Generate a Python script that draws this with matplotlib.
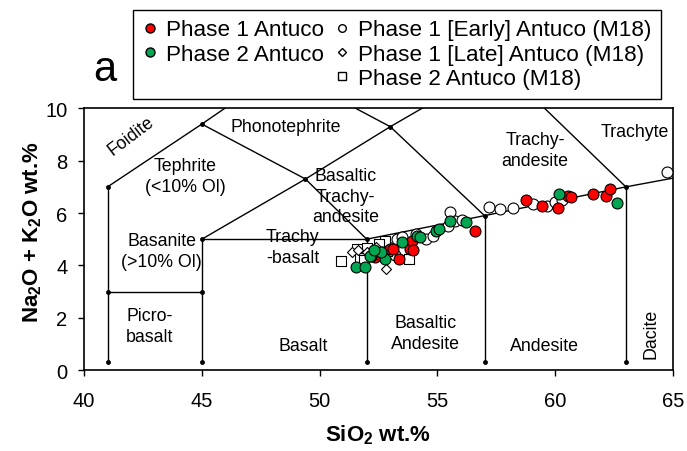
import matplotlib
matplotlib.use('Agg')
import matplotlib.pyplot as plt
from matplotlib.lines import Line2D

plt.rcParams['font.family'] = ['Liberation Sans', 'DejaVu Sans']
plt.rcParams['mathtext.default'] = 'regular'

# Phase 1 Antuco (this study)
p1_sio2 = [52.36, 52.50, 52.70, 53.00, 53.13, 53.39, 53.84, 53.91, 53.98, 56.58,
           58.77, 59.44, 60.14, 60.56, 60.65, 61.60, 62.17, 62.34, 52.20]
p1_alk = [4.31, 4.43, 4.50, 4.62, 4.62, 4.24, 4.62, 4.94, 4.60, 5.32,
          6.51, 6.28, 6.18, 6.66, 6.60, 6.71, 6.64, 6.92, 4.35]

# Phase 2 Antuco (this study)
p2_sio2 = [51.55, 51.93, 52.14, 52.78, 52.60, 52.30, 54.12, 54.27, 54.95, 55.05,
           55.54, 56.22, 60.18, 62.62, 53.50]
p2_alk = [3.92, 3.92, 4.37, 4.24, 4.50, 4.60, 5.13, 5.07, 5.32, 5.39,
          5.68, 5.64, 6.72, 6.38, 4.90]

# M18 data
early_sio2 = [53.28, 53.50, 54.10, 54.50, 54.83, 55.47, 55.54, 55.75, 56.04, 57.17,
              57.64, 58.23, 59.05, 59.67, 60.00, 60.30, 64.74, 52.90, 53.20]
early_alk = [5.00, 5.07, 5.20, 5.00, 5.13, 5.51, 6.03, 5.70, 5.73, 6.24,
             6.15, 6.20, 6.34, 6.28, 6.41, 6.50, 7.55, 4.70, 4.40]

late_sio2 = [51.37, 51.65, 52.82, 52.00, 52.40]
late_alk = [4.52, 4.60, 3.86, 4.50, 4.70]

p2m_sio2 = [50.90, 51.58, 51.70, 52.00, 52.78, 52.85, 53.81, 52.50, 51.90]
p2m_alk = [4.17, 4.62, 4.30, 4.65, 4.94, 4.56, 4.24, 4.80, 4.20]

# TAS field boundaries (Le Bas et al. 1986)
tas_lines = [
    [(41, 0.3), (41, 7)],
    [(41, 3), (45, 3)],
    [(45, 0.3), (45, 5)],
    [(45, 5), (52, 5)],
    [(52, 0.3), (52, 5)],
    [(57, 0.3), (57, 5.9)],
    [(63, 0.3), (63, 7)],
    [(52, 5), (57, 5.9), (63, 7), (69, 8)],
    [(41, 7), (45, 9.4), (48.4, 11.5)],
    [(45, 5), (49.4, 7.3), (53, 9.3), (57.6, 11.7)],
    [(45, 9.4), (49.4, 7.3), (52, 5)],
    [(48.4, 11.5), (53, 9.3), (57, 5.9)],
    [(57.6, 11.7), (63, 7)],
]
tas_nodes = [(41, 0.3), (41, 3), (41, 7), (45, 0.3), (45, 3), (45, 5), (45, 9.4),
             (49.4, 7.3), (52, 0.3), (52, 5), (53, 9.3), (57, 0.3), (57, 5.9),
             (63, 0.3), (63, 7)]

fig = plt.figure(figsize=(6.87, 4.52), dpi=100)
ax = fig.add_axes([0.1223, 0.1792, 0.8573, 0.5788])

for seg in tas_lines:
    xs, ys = zip(*seg)
    ax.plot(xs, ys, color='black', lw=1.0, zorder=1)
nx, ny = zip(*tas_nodes)
ax.plot(nx, ny, 'o', color='black', ms=2.5, zorder=1)

fs = 12.8
labels = [
    (42.0, 8.95, 'Foidite', 37),
    (48.55, 9.32, 'Phonotephrite', 0),
    (44.3, 7.4, 'Tephrite\n(<10% Ol)', 0),
    (43.3, 4.55, 'Basanite\n(>10% Ol)', 0),
    (48.85, 4.7, 'Trachy\n-basalt', 0),
    (51.1, 6.65, 'Basaltic\nTrachy-\nandesite', 0),
    (59.15, 8.4, 'Trachy-\nandesite', 0),
    (63.4, 9.12, 'Trachyte', 0),
    (42.8, 1.68, 'Picro-\nbasalt', 0),
    (49.3, 0.95, 'Basalt', 0),
    (54.5, 1.4, 'Basaltic\nAndesite', 0),
    (59.55, 0.92, 'Andesite', 0),
    (64.05, 1.42, 'Dacite', 90),
]
for x, y, s, rot in labels:
    ax.text(x, y, s, ha='center', va='center', fontsize=fs, rotation=rot,
            linespacing=1.3, zorder=2)

ms = 62
ax.scatter(early_sio2, early_alk, s=ms, marker='o', facecolor='white',
           edgecolor='black', linewidth=0.8, zorder=3)
ax.scatter(p2m_sio2, p2m_alk, s=50, marker='s', facecolor='white',
           edgecolor='black', linewidth=0.8, zorder=3)
ax.scatter(late_sio2, late_alk, s=26, marker='D', facecolor='white',
           edgecolor='black', linewidth=0.8, zorder=3)
ax.scatter(p1_sio2, p1_alk, s=ms, marker='o', facecolor='#ff0000',
           edgecolor='black', linewidth=0.8, zorder=4)
ax.scatter(p2_sio2, p2_alk, s=ms, marker='o', facecolor='#00a651',
           edgecolor='black', linewidth=0.8, zorder=4)

ax.set_xlim(40, 65)
ax.set_ylim(0, 10)
ax.set_xticks(range(40, 66, 5))
ax.set_yticks(range(0, 11, 2))
ax.tick_params(direction='out', length=4, width=1, labelsize=14.5)
ax.tick_params(axis='x', pad=11)
ax.tick_params(axis='y', pad=8)
for sp in ax.spines.values():
    sp.set_linewidth(1.2)

ax.set_xlabel('SiO$_2$ wt.%', fontsize=16, fontweight='bold')
ax.set_ylabel('Na$_2$O + K$_2$O wt.%', fontsize=16, fontweight='bold')
ax.xaxis.set_label_coords(0.5, -0.2)
ax.yaxis.set_label_coords(-0.068, 0.53)

fig.text(0.153, 0.845, 'a', fontsize=30, ha='center', va='center')

blank = Line2D([], [], linestyle='none')
handles = [
    Line2D([], [], marker='o', ls='none', mfc='#ff0000', mec='black', ms=6.5),
    Line2D([], [], marker='o', ls='none', mfc='#00a651', mec='black', ms=6.5),
    blank,
    Line2D([], [], marker='o', ls='none', mfc='white', mec='black', ms=5.5),
    Line2D([], [], marker='D', ls='none', mfc='white', mec='black', ms=4.5),
    Line2D([], [], marker='s', ls='none', mfc='white', mec='black', ms=5.5),
]
names = ['Phase 1 Antuco', 'Phase 2 Antuco', '',
         'Phase 1 [Early] Antuco (M18)', 'Phase 1 [Late] Antuco (M18)',
         'Phase 2 Antuco (M18)']
leg = fig.legend(handles, names, ncol=2, loc='upper left',
                 bbox_to_anchor=(133 / 687, 1 - 11 / 452),
                 bbox_transform=fig.transFigure, borderaxespad=0,
                 fontsize=16.2, handlelength=0.7, handletextpad=0.35,
                 columnspacing=0.45, labelspacing=0.15, borderpad=0.42,
                 fancybox=False, framealpha=1)
leg.get_frame().set_edgecolor('black')
leg.get_frame().set_linewidth(1.0)

fig.savefig('out.png', dpi=100)
